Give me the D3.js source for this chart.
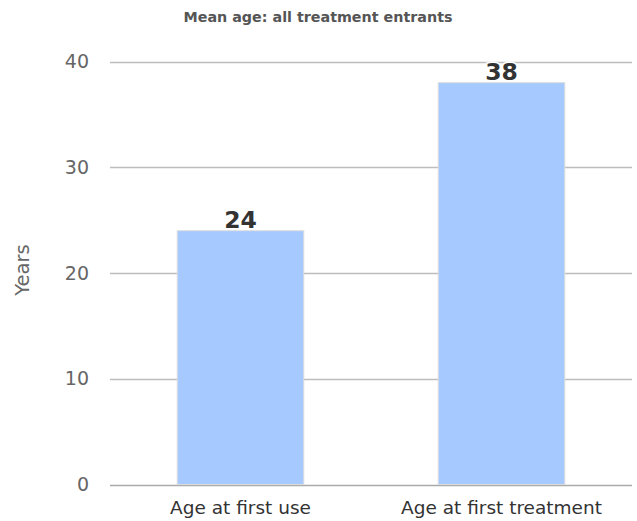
<!DOCTYPE html>
<html><head><meta charset="utf-8">
<script src="https://cdn.jsdelivr.net/npm/d3@7"></script>
<style>body{margin:0;background:#fff}svg{display:block}</style>
</head><body>
<svg id="c" width="637" height="521"></svg>
<script>
const categories = ["Age at first use", "Age at first treatment"];
const values = [24, 38];
const yTicks = [0, 10, 20, 30, 40];
const title = "Mean age: all treatment entrants";
const yLabel = "Years";

const svg = d3.select("#c");
const font = "'DejaVu Sans', Verdana, sans-serif";
const m = {left: 110, right: 5, top: 61.5, bottom: 36.5};
const W = 637, H = 521;
const x = d3.scaleBand().domain(categories).range([m.left, W - m.right]).padding(0);
const y = d3.scaleLinear().domain([0, 40]).range([H - m.bottom, m.top]);

// gridlines
svg.append("g").selectAll("line").data(yTicks).join("line")
  .attr("x1", m.left).attr("x2", W - m.right)
  .attr("y1", d => Math.round(y(d)) + 0.5).attr("y2", d => Math.round(y(d)) + 0.5)
  .attr("stroke", d => d === 0 ? "#aaaaaa" : "#bdbdbd").attr("stroke-width", 1.5);

// y tick labels
svg.append("g").selectAll("text").data(yTicks).join("text")
  .attr("x", 89).attr("y", d => y(d)).attr("dy", "0.35em")
  .attr("text-anchor", "end").attr("font-family", font).attr("font-size", 19)
  .attr("fill", "#666").text(d => d);

// bars
const bw = x.bandwidth() * 0.485;
svg.append("g").selectAll("rect").data(values).join("rect")
  .attr("x", (d, i) => x(categories[i]) + (x.bandwidth() - bw) / 2)
  .attr("width", bw)
  .attr("y", d => y(d))
  .attr("height", d => y(0) - y(d))
  .attr("fill", "#a6c9ff").attr("stroke", "#dcdcdc").attr("stroke-width", 1);

// value labels
svg.append("g").selectAll("text").data(values).join("text")
  .attr("x", (d, i) => x(categories[i]) + x.bandwidth() / 2)
  .attr("y", d => y(d) - 2.5)
  .attr("text-anchor", "middle").attr("font-family", font).attr("font-weight", "bold")
  .attr("font-size", 23.5).attr("fill", "#333")
  .attr("stroke", "#fff").attr("stroke-width", 3).attr("paint-order", "stroke")
  .text(d => d);

// category labels
svg.append("g").selectAll("text").data(categories).join("text")
  .attr("x", d => x(d) + x.bandwidth() / 2).attr("y", 514)
  .attr("text-anchor", "middle").attr("font-family", font).attr("font-size", 18.5)
  .attr("fill", "#333").text(d => d);

// title
svg.append("text").attr("x", 318).attr("y", 22).attr("text-anchor", "middle")
  .attr("font-family", font).attr("font-weight", "bold").attr("font-size", 14.3)
  .attr("fill", "#555").text(title);

// y axis title
svg.append("text").attr("transform", "translate(29,270) rotate(-90)")
  .attr("text-anchor", "middle").attr("font-family", font).attr("font-size", 19.5)
  .attr("fill", "#666").text(yLabel);
</script>
</body></html>
